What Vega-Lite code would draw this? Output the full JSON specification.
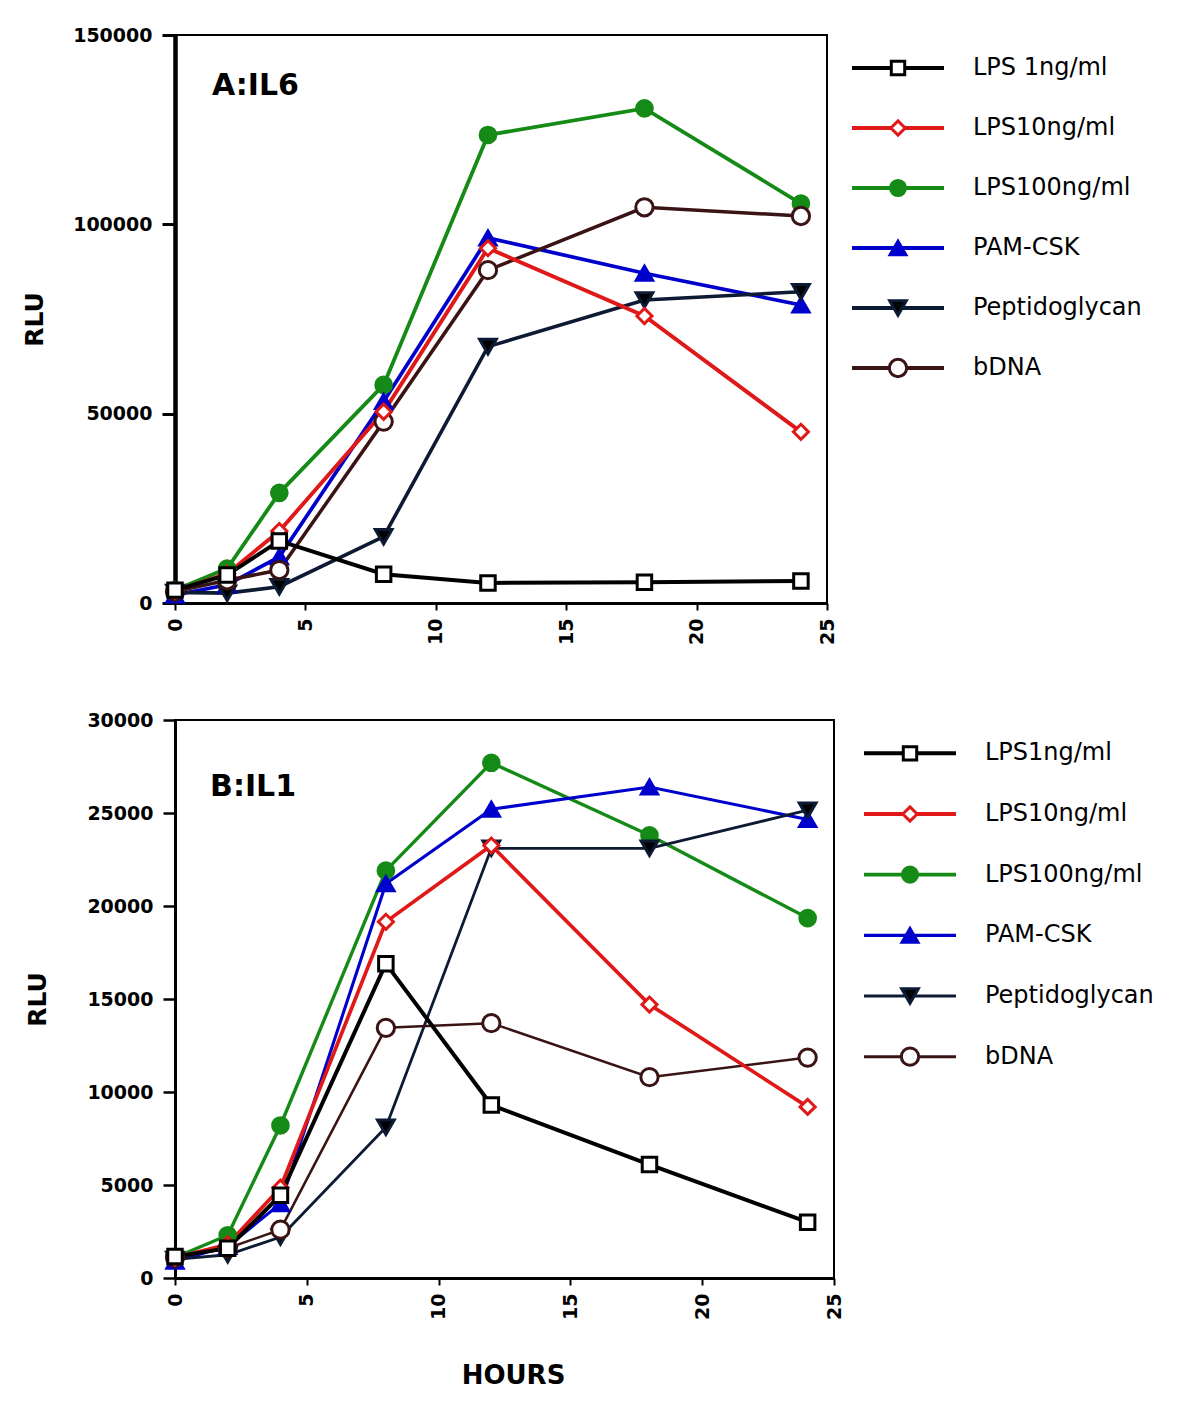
{
  "$schema": "https://vega.github.io/schema/vega-lite/v6.json",
  "background": "white",
  "padding": {"left": 21, "top": 25, "right": 5, "bottom": 5},
  "config": {
    "font": "DejaVu Sans",
    "axis": {"grid": false, "domainColor": "black", "tickColor": "black", "labelColor": "black", "labelFont": "DejaVu Sans", "labelFontWeight": "bold", "labelFontSize": 19, "titleFont": "DejaVu Sans", "titleFontWeight": "bold", "titleFontSize": 25, "titleColor": "black"},
    "view": {"stroke": "black", "strokeWidth": 2}
  },
  "datasets": {
    "il6": [
      {"key": "LPS100", "hours": 0, "rlu": 3400}, {"key": "LPS100", "hours": 2, "rlu": 9100}, {"key": "LPS100", "hours": 4, "rlu": 29100}, {"key": "LPS100", "hours": 8, "rlu": 57600}, {"key": "LPS100", "hours": 12, "rlu": 123600}, {"key": "LPS100", "hours": 18, "rlu": 130600}, {"key": "LPS100", "hours": 24, "rlu": 105500},
      {"key": "PAM", "hours": 0, "rlu": 2100}, {"key": "PAM", "hours": 2, "rlu": 4800}, {"key": "PAM", "hours": 4, "rlu": 12200}, {"key": "PAM", "hours": 8, "rlu": 53200}, {"key": "PAM", "hours": 12, "rlu": 96400}, {"key": "PAM", "hours": 18, "rlu": 87100}, {"key": "PAM", "hours": 24, "rlu": 78700},
      {"key": "PEP", "hours": 0, "rlu": 2800}, {"key": "PEP", "hours": 2, "rlu": 2600}, {"key": "PEP", "hours": 4, "rlu": 4300}, {"key": "PEP", "hours": 8, "rlu": 17500}, {"key": "PEP", "hours": 12, "rlu": 67700}, {"key": "PEP", "hours": 18, "rlu": 80000}, {"key": "PEP", "hours": 24, "rlu": 82200},
      {"key": "BDNA", "hours": 0, "rlu": 3000}, {"key": "BDNA", "hours": 2, "rlu": 6000}, {"key": "BDNA", "hours": 4, "rlu": 8700}, {"key": "BDNA", "hours": 8, "rlu": 47900}, {"key": "BDNA", "hours": 12, "rlu": 87900}, {"key": "BDNA", "hours": 18, "rlu": 104500}, {"key": "BDNA", "hours": 24, "rlu": 102200},
      {"key": "LPS10", "hours": 0, "rlu": 3300}, {"key": "LPS10", "hours": 2, "rlu": 7700}, {"key": "LPS10", "hours": 4, "rlu": 19000}, {"key": "LPS10", "hours": 8, "rlu": 50500}, {"key": "LPS10", "hours": 12, "rlu": 93700}, {"key": "LPS10", "hours": 18, "rlu": 75800}, {"key": "LPS10", "hours": 24, "rlu": 45200},
      {"key": "LPS1", "hours": 0, "rlu": 3400}, {"key": "LPS1", "hours": 2, "rlu": 7400}, {"key": "LPS1", "hours": 4, "rlu": 16400}, {"key": "LPS1", "hours": 8, "rlu": 7600}, {"key": "LPS1", "hours": 12, "rlu": 5300}, {"key": "LPS1", "hours": 18, "rlu": 5500}, {"key": "LPS1", "hours": 24, "rlu": 5800}
    ],
    "il1": [
      {"key": "LPS100", "hours": 0, "rlu": 1100}, {"key": "LPS100", "hours": 2, "rlu": 2300}, {"key": "LPS100", "hours": 4, "rlu": 8200}, {"key": "LPS100", "hours": 8, "rlu": 21900}, {"key": "LPS100", "hours": 12, "rlu": 27700}, {"key": "LPS100", "hours": 18, "rlu": 23800}, {"key": "LPS100", "hours": 24, "rlu": 19350},
      {"key": "PAM", "hours": 0, "rlu": 900}, {"key": "PAM", "hours": 2, "rlu": 1700}, {"key": "PAM", "hours": 4, "rlu": 4000}, {"key": "PAM", "hours": 8, "rlu": 21200}, {"key": "PAM", "hours": 12, "rlu": 25200}, {"key": "PAM", "hours": 18, "rlu": 26400}, {"key": "PAM", "hours": 24, "rlu": 24650},
      {"key": "PEP", "hours": 0, "rlu": 1000}, {"key": "PEP", "hours": 2, "rlu": 1250}, {"key": "PEP", "hours": 4, "rlu": 2200}, {"key": "PEP", "hours": 8, "rlu": 8100}, {"key": "PEP", "hours": 12, "rlu": 23100}, {"key": "PEP", "hours": 18, "rlu": 23100}, {"key": "PEP", "hours": 24, "rlu": 25150},
      {"key": "BDNA", "hours": 0, "rlu": 1100}, {"key": "BDNA", "hours": 2, "rlu": 1600}, {"key": "BDNA", "hours": 4, "rlu": 2600}, {"key": "BDNA", "hours": 8, "rlu": 13450}, {"key": "BDNA", "hours": 12, "rlu": 13700}, {"key": "BDNA", "hours": 18, "rlu": 10800}, {"key": "BDNA", "hours": 24, "rlu": 11850},
      {"key": "LPS10", "hours": 0, "rlu": 1100}, {"key": "LPS10", "hours": 2, "rlu": 1800}, {"key": "LPS10", "hours": 4, "rlu": 4850}, {"key": "LPS10", "hours": 8, "rlu": 19150}, {"key": "LPS10", "hours": 12, "rlu": 23250}, {"key": "LPS10", "hours": 18, "rlu": 14700}, {"key": "LPS10", "hours": 24, "rlu": 9200},
      {"key": "LPS1", "hours": 0, "rlu": 1150}, {"key": "LPS1", "hours": 2, "rlu": 1600}, {"key": "LPS1", "hours": 4, "rlu": 4450}, {"key": "LPS1", "hours": 8, "rlu": 16900}, {"key": "LPS1", "hours": 12, "rlu": 9300}, {"key": "LPS1", "hours": 18, "rlu": 6100}, {"key": "LPS1", "hours": 24, "rlu": 3000}
    ],
    "legA": [
      {"key": "LPS1", "label": "LPS 1ng/ml"}, {"key": "LPS10", "label": "LPS10ng/ml"}, {"key": "LPS100", "label": "LPS100ng/ml"}, {"key": "PAM", "label": "PAM-CSK"}, {"key": "PEP", "label": "Peptidoglycan"}, {"key": "BDNA", "label": "bDNA"}
    ],
    "legB": [
      {"key": "LPS1", "label": "LPS1ng/ml"}, {"key": "LPS10", "label": "LPS10ng/ml"}, {"key": "LPS100", "label": "LPS100ng/ml"}, {"key": "PAM", "label": "PAM-CSK"}, {"key": "PEP", "label": "Peptidoglycan"}, {"key": "BDNA", "label": "bDNA"}
    ]
  },
  "resolve": {"scale": {"x": "independent", "y": "independent", "stroke": "independent", "fill": "independent", "shape": "independent", "size": "independent", "strokeWidth": "independent"}},
  "align": "none",
  "spacing": 64,
  "vconcat": [
    {
      "spacing": 12,
      "resolve": {"scale": {"x": "independent", "y": "independent", "stroke": "independent", "fill": "independent", "shape": "independent", "size": "independent", "strokeWidth": "independent"}},
      "hconcat": [
        {
          "width": 652, "height": 568,
          "data": {"name": "il6"},
          "layer": [
            {
              "mark": {"type": "line"},
              "encoding": {
                "x": {"field": "hours", "type": "quantitative", "scale": {"domain": [0, 25], "nice": false}, "axis": {"values": [0, 5, 10, 15, 20, 25], "title": null, "labelAngle": 270, "tickSize": 7, "tickWidth": 2, "domainWidth": 3, "labelPadding": 8, "minExtent": 42, "maxExtent": 42}},
                "y": {"field": "rlu", "type": "quantitative", "scale": {"domain": [0, 150000], "nice": false}, "axis": {"values": [0, 50000, 100000, 150000], "format": "d", "title": "RLU", "tickSize": 13, "tickWidth": 3, "domainWidth": 4.5, "labelPadding": 10, "minExtent": 102, "maxExtent": 102, "titlePadding": 26}},
                "stroke": {"field": "key", "type": "nominal", "scale": {"domain": ["LPS1", "LPS10", "LPS100", "PAM", "PEP", "BDNA"], "range": ["#000000", "#e01818", "#168a16", "#0000cc", "#0c1a33", "#3a1414"]}, "legend": null},
                "strokeWidth": {"field": "key", "type": "nominal", "scale": {"domain": ["LPS1", "LPS10", "LPS100", "PAM", "PEP", "BDNA"], "range": [4, 3.5, 3.2, 2.5, 2.3, 3.5]}, "legend": null}
              }
            },
            {
              "mark": {"type": "point", "filled": true, "strokeWidth": 3, "opacity": 1},
              "encoding": {
                "x": {"field": "hours", "type": "quantitative"},
                "y": {"field": "rlu", "type": "quantitative"},
                "shape": {"field": "key", "type": "nominal", "scale": {"domain": ["LPS1", "LPS10", "LPS100", "PAM", "PEP", "BDNA"], "range": ["square", "diamond", "circle", "triangle-up", "triangle-down", "circle"]}, "legend": null},
                "fill": {"field": "key", "type": "nominal", "scale": {"domain": ["LPS1", "LPS10", "LPS100", "PAM", "PEP", "BDNA"], "range": ["#ffffff", "#ffffff", "#168a16", "#0000cc", "#000000", "#ffffff"]}, "legend": null},
                "stroke": {"field": "key", "type": "nominal", "scale": {"domain": ["LPS1", "LPS10", "LPS100", "PAM", "PEP", "BDNA"], "range": ["#000000", "#e01818", "#168a16", "#0000cc", "#000000", "#000000"]}, "legend": null},
                "size": {"field": "key", "type": "nominal", "scale": {"domain": ["LPS1", "LPS10", "LPS100", "PAM", "PEP", "BDNA"], "range": [210, 300, 330, 420, 420, 250]}, "legend": null}
              }
            },
            {
              "data": {"values": [{"label": "A:IL6"}]},
              "mark": {"type": "text", "align": "left", "baseline": "alphabetic", "font": "DejaVu Sans", "fontWeight": "bold", "fontSize": 30, "color": "black"},
              "encoding": {
                "x": {"datum": 1.42, "type": "quantitative"},
                "y": {"datum": 134200, "type": "quantitative"},
                "text": {"field": "label", "type": "nominal"}
              }
            }
          ]
        },
        {
          "width": 320, "height": 360,
          "view": {"stroke": null},
          "data": {"name": "legA"},
          "layer": [
            {
              "mark": {"type": "rule", "yOffset": 3},
              "encoding": {
                "x": {"datum": 0, "type": "quantitative", "scale": {"domain": [0, 10], "nice": false, "zero": false}, "axis": null},
                "x2": {"datum": 2.875},
                "y": {"field": "key", "type": "nominal", "sort": null, "scale": {"type": "point", "padding": 0.5, "domain": ["LPS1", "LPS10", "LPS100", "PAM", "PEP", "BDNA"]}, "axis": null},
                "stroke": {"field": "key", "type": "nominal", "scale": {"domain": ["LPS1", "LPS10", "LPS100", "PAM", "PEP", "BDNA"], "range": ["#000000", "#e01818", "#168a16", "#0000cc", "#0c1a33", "#3a1414"]}, "legend": null},
                "strokeWidth": {"field": "key", "type": "nominal", "scale": {"domain": ["LPS1", "LPS10", "LPS100", "PAM", "PEP", "BDNA"], "range": [4, 4, 4, 3, 3, 4]}, "legend": null}
              }
            },
            {
              "mark": {"type": "point", "filled": true, "strokeWidth": 3, "opacity": 1, "yOffset": 3},
              "encoding": {
                "x": {"datum": 1.4375, "type": "quantitative"},
                "y": {"field": "key", "type": "nominal"},
                "shape": {"field": "key", "type": "nominal", "scale": {"domain": ["LPS1", "LPS10", "LPS100", "PAM", "PEP", "BDNA"], "range": ["square", "diamond", "circle", "triangle-up", "triangle-down", "circle"]}, "legend": null},
                "fill": {"field": "key", "type": "nominal", "scale": {"domain": ["LPS1", "LPS10", "LPS100", "PAM", "PEP", "BDNA"], "range": ["#ffffff", "#ffffff", "#168a16", "#0000cc", "#000000", "#ffffff"]}, "legend": null},
                "stroke": {"field": "key", "type": "nominal", "scale": {"domain": ["LPS1", "LPS10", "LPS100", "PAM", "PEP", "BDNA"], "range": ["#000000", "#e01818", "#168a16", "#0000cc", "#000000", "#000000"]}, "legend": null},
                "size": {"field": "key", "type": "nominal", "scale": {"domain": ["LPS1", "LPS10", "LPS100", "PAM", "PEP", "BDNA"], "range": [180, 300, 380, 440, 440, 250]}, "legend": null}
              }
            },
            {
              "mark": {"type": "text", "align": "left", "baseline": "middle", "font": "DejaVu Sans", "fontSize": 24, "color": "black", "yOffset": 3},
              "encoding": {
                "x": {"datum": 3.78, "type": "quantitative"},
                "y": {"field": "key", "type": "nominal"},
                "text": {"field": "label", "type": "nominal"}
              }
            }
          ]
        }
      ]
    },
    {
      "spacing": 17,
      "resolve": {"scale": {"x": "independent", "y": "independent", "stroke": "independent", "fill": "independent", "shape": "independent", "size": "independent", "strokeWidth": "independent"}},
      "hconcat": [
        {
          "width": 659, "height": 558,
          "data": {"name": "il1"},
          "layer": [
            {
              "mark": {"type": "line"},
              "encoding": {
                "x": {"field": "hours", "type": "quantitative", "scale": {"domain": [0, 25], "nice": false}, "axis": {"values": [0, 5, 10, 15, 20, 25], "title": "HOURS", "titleFontSize": 26, "titleX": 338, "titleAlign": "center", "titlePadding": 42, "labelAngle": 270, "tickSize": 7, "tickWidth": 2, "domainWidth": 3, "labelPadding": 8, "minExtent": 42, "maxExtent": 42}},
                "y": {"field": "rlu", "type": "quantitative", "scale": {"domain": [0, 30000], "nice": false}, "axis": {"values": [0, 5000, 10000, 15000, 20000, 25000, 30000], "format": "d", "title": "RLU", "tickSize": 12, "tickWidth": 2.5, "domainWidth": 3, "labelPadding": 10, "minExtent": 99, "maxExtent": 99, "titlePadding": 26}},
                "stroke": {"field": "key", "type": "nominal", "scale": {"domain": ["LPS1", "LPS10", "LPS100", "PAM", "PEP", "BDNA"], "range": ["#000000", "#e01818", "#168a16", "#0000cc", "#0c1a33", "#3a1414"]}, "legend": null},
                "strokeWidth": {"field": "key", "type": "nominal", "scale": {"domain": ["LPS1", "LPS10", "LPS100", "PAM", "PEP", "BDNA"], "range": [4, 2.5, 2.5, 2.5, 2.5, 2.5]}, "legend": null}
              }
            },
            {
              "mark": {"type": "point", "filled": true, "strokeWidth": 3, "opacity": 1},
              "encoding": {
                "x": {"field": "hours", "type": "quantitative"},
                "y": {"field": "rlu", "type": "quantitative"},
                "shape": {"field": "key", "type": "nominal", "scale": {"domain": ["LPS1", "LPS10", "LPS100", "PAM", "PEP", "BDNA"], "range": ["square", "diamond", "circle", "triangle-up", "triangle-down", "circle"]}, "legend": null},
                "fill": {"field": "key", "type": "nominal", "scale": {"domain": ["LPS1", "LPS10", "LPS100", "PAM", "PEP", "BDNA"], "range": ["#ffffff", "#ffffff", "#168a16", "#0000cc", "#000000", "#ffffff"]}, "legend": null},
                "stroke": {"field": "key", "type": "nominal", "scale": {"domain": ["LPS1", "LPS10", "LPS100", "PAM", "PEP", "BDNA"], "range": ["#000000", "#e01818", "#168a16", "#0000cc", "#000000", "#3a1414"]}, "legend": null},
                "size": {"field": "key", "type": "nominal", "scale": {"domain": ["LPS1", "LPS10", "LPS100", "PAM", "PEP", "BDNA"], "range": [210, 300, 360, 420, 420, 270]}, "legend": null}
              }
            },
            {
              "data": {"values": [{"label": "B:IL1"}]},
              "mark": {"type": "text", "align": "left", "baseline": "alphabetic", "font": "DejaVu Sans", "fontWeight": "bold", "fontSize": 30, "color": "black"},
              "encoding": {
                "x": {"datum": 1.33, "type": "quantitative"},
                "y": {"datum": 25900, "type": "quantitative"},
                "text": {"field": "label", "type": "nominal"}
              }
            }
          ]
        },
        {
          "width": 320, "height": 364,
          "view": {"stroke": null},
          "data": {"name": "legB"},
          "layer": [
            {
              "mark": {"type": "rule", "yOffset": 3},
              "encoding": {
                "x": {"datum": 0, "type": "quantitative", "scale": {"domain": [0, 10], "nice": false, "zero": false}, "axis": null},
                "x2": {"datum": 2.875},
                "y": {"field": "key", "type": "nominal", "sort": null, "scale": {"type": "point", "padding": 0.5, "domain": ["LPS1", "LPS10", "LPS100", "PAM", "PEP", "BDNA"]}, "axis": null},
                "stroke": {"field": "key", "type": "nominal", "scale": {"domain": ["LPS1", "LPS10", "LPS100", "PAM", "PEP", "BDNA"], "range": ["#000000", "#e01818", "#168a16", "#0000cc", "#0c1a33", "#3a1414"]}, "legend": null},
                "strokeWidth": {"field": "key", "type": "nominal", "scale": {"domain": ["LPS1", "LPS10", "LPS100", "PAM", "PEP", "BDNA"], "range": [4, 3, 3, 3, 3, 3]}, "legend": null}
              }
            },
            {
              "mark": {"type": "point", "filled": true, "strokeWidth": 3, "opacity": 1, "yOffset": 3},
              "encoding": {
                "x": {"datum": 1.4375, "type": "quantitative"},
                "y": {"field": "key", "type": "nominal"},
                "shape": {"field": "key", "type": "nominal", "scale": {"domain": ["LPS1", "LPS10", "LPS100", "PAM", "PEP", "BDNA"], "range": ["square", "diamond", "circle", "triangle-up", "triangle-down", "circle"]}, "legend": null},
                "fill": {"field": "key", "type": "nominal", "scale": {"domain": ["LPS1", "LPS10", "LPS100", "PAM", "PEP", "BDNA"], "range": ["#ffffff", "#ffffff", "#168a16", "#0000cc", "#000000", "#ffffff"]}, "legend": null},
                "stroke": {"field": "key", "type": "nominal", "scale": {"domain": ["LPS1", "LPS10", "LPS100", "PAM", "PEP", "BDNA"], "range": ["#000000", "#e01818", "#168a16", "#0000cc", "#000000", "#3a1414"]}, "legend": null},
                "size": {"field": "key", "type": "nominal", "scale": {"domain": ["LPS1", "LPS10", "LPS100", "PAM", "PEP", "BDNA"], "range": [180, 300, 380, 440, 440, 250]}, "legend": null}
              }
            },
            {
              "mark": {"type": "text", "align": "left", "baseline": "middle", "font": "DejaVu Sans", "fontSize": 24, "color": "black", "yOffset": 3},
              "encoding": {
                "x": {"datum": 3.78, "type": "quantitative"},
                "y": {"field": "key", "type": "nominal"},
                "text": {"field": "label", "type": "nominal"}
              }
            }
          ]
        }
      ]
    }
  ]
}
